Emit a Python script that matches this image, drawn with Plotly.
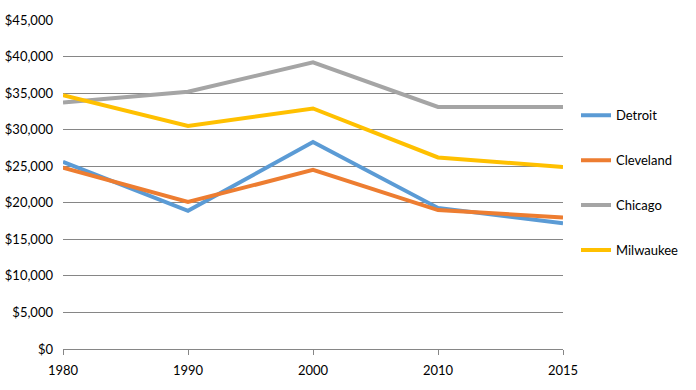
import plotly.graph_objects as go

years = ["1980", "1990", "2000", "2010", "2015"]
detroit = [25600, 18900, 28300, 19300, 17200]
cleveland = [24800, 20100, 24500, 19000, 18000]
chicago = [33700, 35200, 39200, 33100, 33100]
milwaukee = [34700, 30500, 32900, 26200, 24900]

series = [
    ("Detroit", detroit, "#5B9BD5"),
    ("Cleveland", cleveland, "#ED7D31"),
    ("Chicago", chicago, "#A5A5A5"),
    ("Milwaukee", milwaukee, "#FFC000"),
]

tickvals = list(range(0, 45001, 5000))
ticktext = ["$0" if v == 0 else "${:,}".format(v) for v in tickvals]

fig = go.Figure()
for name, vals, color in series:
    fig.add_trace(go.Scatter(
        x=years, y=vals, name=name, mode="lines",
        line=dict(color=color, width=4),
        legendgroup=name,
    ))

font = dict(family="Lato, 'Liberation Sans', sans-serif", size=13, color="#000000")

fig.update_layout(
    width=696, height=390,
    margin=dict(l=63, r=133, t=20, b=41, autoexpand=False),
    plot_bgcolor="white", paper_bgcolor="white",
    font=font,
    showlegend=True,
    legend=dict(x=1.026, y=0.756, xanchor="left", yanchor="top",
                tracegroupgap=25, font=font, bgcolor="rgba(0,0,0,0)"),
    xaxis=dict(type="category", range=[0, 4], showgrid=False,
               showline=True, linecolor="#868686", linewidth=1,
               ticks="outside", ticklen=5, tickcolor="#868686",
               ticklabelstandoff=4,
               tickfont=font, zeroline=False, fixedrange=True, automargin=False),
    yaxis=dict(range=[0, 45000], tickvals=tickvals, ticktext=ticktext,
               showgrid=True, gridcolor="#868686", gridwidth=1,
               zeroline=False, showline=False, ticks="", ticklen=0,
               ticklabelstandoff=9,
               tickfont=font, fixedrange=True, automargin=False),
)

fig.write_html("out.html", config={"displayModeBar": False},
               post_script="document.body.style.margin='0';")
